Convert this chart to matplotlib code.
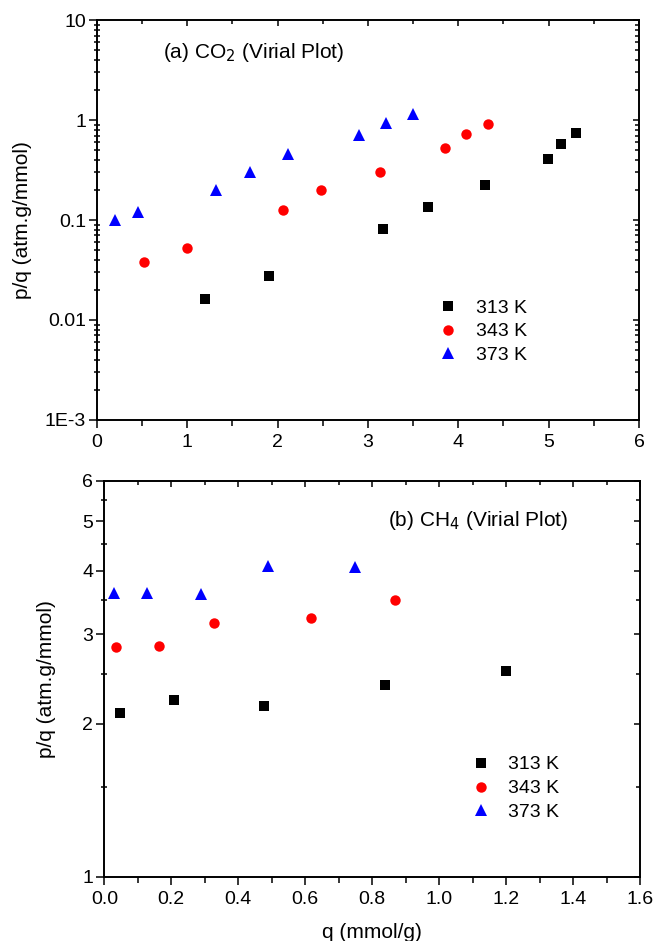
import matplotlib
matplotlib.use("Agg")
import matplotlib.pyplot as plt
from matplotlib.ticker import FixedLocator, NullFormatter, MultipleLocator, FixedFormatter

plt.rcParams['font.family'] = ['Liberation Sans', 'DejaVu Sans']

# ---- data: (a) CO2 ----
co2_313_q = [1.20, 1.90, 3.17, 3.66, 4.30, 4.99, 5.14, 5.30]
co2_313_pq = [0.0163, 0.0277, 0.081, 0.135, 0.222, 0.404, 0.571, 0.741]
co2_343_q = [0.52, 1.00, 2.06, 2.48, 3.13, 3.85, 4.09, 4.33]
co2_343_pq = [0.0377, 0.0529, 0.126, 0.200, 0.302, 0.529, 0.719, 0.905]
co2_373_q = [0.20, 0.45, 1.32, 1.69, 2.12, 2.90, 3.20, 3.50]
co2_373_pq = [0.100, 0.120, 0.200, 0.300, 0.457, 0.708, 0.926, 1.14]

# ---- data: (b) CH4 ----
ch4_313_q = [0.048, 0.208, 0.478, 0.839, 1.199]
ch4_313_pq = [2.10, 2.23, 2.17, 2.38, 2.54]
ch4_343_q = [0.035, 0.164, 0.329, 0.618, 0.869]
ch4_343_pq = [2.83, 2.84, 3.15, 3.22, 3.50]
ch4_373_q = [0.028, 0.128, 0.288, 0.488, 0.749]
ch4_373_pq = [3.62, 3.61, 3.59, 4.08, 4.07]

labels = ['313 K', '343 K', '373 K']
top_yticks = [1e-3, 1e-2, 1e-1, 1, 10]
top_yticklabels = ['1E-3', '0.01', '0.1', '1', '10']
bot_yticks = [1, 2, 3, 4, 5, 6]
bot_yticklabels = ['1', '2', '3', '4', '5', '6']

fig = plt.figure(figsize=(6.54, 9.41), dpi=100)
ax1 = fig.add_axes([0.1483, 0.5537, 0.977 - 0.1483, 0.9787 - 0.5537])
ax2 = fig.add_axes([0.1595, 0.0683, 0.9786 - 0.1595, 0.4889 - 0.0683])

styles = [dict(marker='s', color='black', ms=6.5),
          dict(marker='o', color='red', ms=7.5),
          dict(marker='^', color='blue', ms=8.5)]

for (q, pq), st, lab in zip([(co2_313_q, co2_313_pq), (co2_343_q, co2_343_pq), (co2_373_q, co2_373_pq)], styles, labels):
    ax1.plot(q, pq, linestyle='none', marker=st['marker'], color=st['color'],
             markersize=st['ms'], markeredgewidth=0, label=lab)
for (q, pq), st, lab in zip([(ch4_313_q, ch4_313_pq), (ch4_343_q, ch4_343_pq), (ch4_373_q, ch4_373_pq)], styles, labels):
    ax2.plot(q, pq, linestyle='none', marker=st['marker'], color=st['color'],
             markersize=st['ms'], markeredgewidth=0, label=lab)

TICK_FS = 14
LABEL_FS = 15
ANN_FS = 15
LEG_FS = 14

# axis 1
ax1.set_yscale('log')
ax1.set_xlim(0, 6)
ax1.set_ylim(1e-3, 10)
ax1.xaxis.set_major_locator(MultipleLocator(1))
ax1.xaxis.set_minor_locator(MultipleLocator(0.5))
ax1.yaxis.set_major_locator(FixedLocator(top_yticks))
ax1.yaxis.set_major_formatter(FixedFormatter(top_yticklabels))
minors = [m * 10.0 ** e for e in range(-3, 1) for m in range(2, 10)]
ax1.yaxis.set_minor_locator(FixedLocator(minors))
ax1.yaxis.set_minor_formatter(NullFormatter())
ax1.set_ylabel('p/q (atm.g/mmol)', fontsize=LABEL_FS)
ax1.yaxis.set_label_coords(-0.12, 0.5)
ax1.text(0.1212, 0.92, r'(a) CO$_2$ (Virial Plot)', transform=ax1.transAxes,
         fontsize=ANN_FS, va='center')

# axis 2
ax2.set_yscale('log')
ax2.set_xlim(0, 1.6)
ax2.set_ylim(1, 6)
ax2.xaxis.set_major_locator(MultipleLocator(0.2))
ax2.xaxis.set_minor_locator(MultipleLocator(0.1))
ax2.xaxis.set_major_formatter(matplotlib.ticker.FormatStrFormatter('%.1f'))
ax2.yaxis.set_major_locator(FixedLocator(bot_yticks))
ax2.yaxis.set_major_formatter(FixedFormatter(bot_yticklabels))
ax2.yaxis.set_minor_locator(FixedLocator([1.5, 2.5, 3.5, 4.5, 5.5]))
ax2.yaxis.set_minor_formatter(NullFormatter())
ax2.set_ylabel('p/q (atm.g/mmol)', fontsize=LABEL_FS)
ax2.yaxis.set_label_coords(-0.090, 0.5)
ax2.set_xlabel('q (mmol/g)', fontsize=LABEL_FS)
ax2.xaxis.set_label_coords(0.5, -0.118)
ax2.text(0.5296, 0.901, r'(b) CH$_4$ (Virial Plot)', transform=ax2.transAxes,
         fontsize=ANN_FS, va='center')

for ax in (ax1, ax2):
    for sp in ax.spines.values():
        sp.set_linewidth(1.4)
    ax.tick_params(which='both', direction='out', labelsize=TICK_FS, width=1.1,
                   top=False, right=False)
    ax.tick_params(which='major', length=6, pad=2)
    ax.tick_params(axis='x', which='major', pad=4)
    ax.tick_params(axis='x', which='minor', length=4)
    ax.tick_params(axis='y', which='minor', direction='inout', length=5)
    # mirrored inward ticks on top/right
    sec = ax.secondary_xaxis('top')
    sec.tick_params(which='both', direction='in', labeltop=False, width=1.1)
    sec.tick_params(which='major', length=4)
    sec.tick_params(which='minor', length=3)
    sec.xaxis.set_major_formatter(NullFormatter())
    sec.xaxis.set_minor_locator(ax.xaxis.get_minor_locator())
    secy = ax.secondary_yaxis('right')
    secy.tick_params(which='both', direction='in', labelright=False, width=1.1)
    secy.tick_params(which='major', length=4)
    secy.tick_params(which='minor', length=3)
    secy.yaxis.set_major_locator(ax.yaxis.get_major_locator())
    secy.yaxis.set_minor_locator(ax.yaxis.get_minor_locator())
    secy.yaxis.set_major_formatter(NullFormatter())
    secy.yaxis.set_minor_formatter(NullFormatter())
    sec.spines['top'].set_visible(False)
    secy.spines['right'].set_visible(False)

ax1.legend(loc='upper left', bbox_to_anchor=(0.616, 0.322), frameon=False,
           fontsize=LEG_FS, handletextpad=0.9, labelspacing=0.32, borderaxespad=0,
           handlelength=1.0)
ax2.legend(loc='upper left', bbox_to_anchor=(0.67, 0.325), frameon=False,
           fontsize=LEG_FS, handletextpad=0.9, labelspacing=0.32, borderaxespad=0,
           handlelength=1.0)

fig.savefig('out.png', dpi=100)
